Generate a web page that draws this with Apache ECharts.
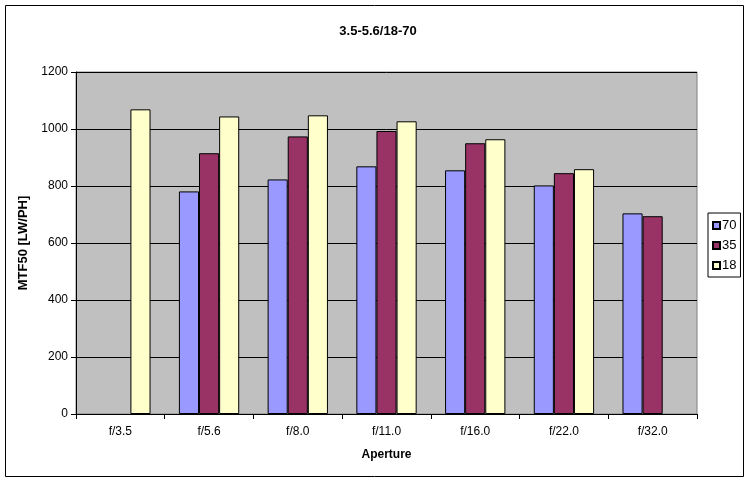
<!DOCTYPE html>
<html>
<head>
<meta charset="utf-8">
<script src="https://cdn.jsdelivr.net/npm/echarts@6/dist/echarts.min.js"></script>
<style>
  html, body { margin: 0; padding: 0; background: #fff; }
  #main { width: 750px; height: 482px; }
</style>
</head>
<body>
<div id="main"></div>
<script>
// data
var apertures = ['f/3.5', 'f/5.6', 'f/8.0', 'f/11.0', 'f/16.0', 'f/22.0', 'f/32.0'];
var s70 = [null, 781, 823, 869, 855, 802, 704];
var s35 = [null, 915, 974, 993, 950, 845, 694];
var s18 = [1069, 1044, 1048, 1027, 964, 859, null];
var yTicks = [0, 200, 400, 600, 800, 1000, 1200];

var myChart = echarts.init(document.getElementById('main'));

function bar(name, data, color) {
    return {
        name: name,
        type: 'bar',
        data: data,
        barGap: '0%',
        barCategoryGap: '32%',
        itemStyle: { color: color, borderColor: '#000', borderWidth: 1 },
        emphasis: { disabled: true }
    };
}

var option = {
    animation: false,
    textStyle: { fontFamily: 'Liberation Sans, Arial, sans-serif' },
    title: {
        text: '3.5-5.6/18-70',
        left: 373,
        textAlign: 'center',
        top: 20,
        textStyle: { fontSize: 13, fontWeight: 'bold', color: '#000', fontFamily: 'Liberation Sans, Arial, sans-serif' }
    },
    graphic: [{
        type: 'rect',
        shape: { x: 5.5, y: 5.5, width: 738, height: 471 },
        style: { fill: 'none', stroke: '#000', lineWidth: 1 },
        silent: true
    }],
    legend: {
        orient: 'vertical',
        left: 708,
        top: 213,
        width: 31,
        padding: [6, 4, 5, 4],
        itemGap: 7,
        itemWidth: 7,
        itemHeight: 7,
        icon: 'rect',
        borderColor: '#000',
        borderWidth: 1,
        textStyle: { fontSize: 13, color: '#000', padding: [0, 0, 0, -3] },
        data: ['70', '35', '18']
    },
    grid: {
        left: 76,
        right: 53,
        top: 72,
        bottom: 68,
        show: true,
        backgroundColor: '#c0c0c0',
        borderColor: '#808080',
        borderWidth: 1
    },
    xAxis: {
        type: 'category',
        data: apertures,
        name: 'Aperture',
        nameLocation: 'middle',
        nameGap: 35,
        nameTextStyle: { fontWeight: 'bold', fontSize: 12, color: '#000' },
        axisLine: { lineStyle: { color: '#000', width: 1 } },
        axisTick: { show: true, length: 5, lineStyle: { color: '#000' } },
        axisLabel: { color: '#000', fontSize: 12, margin: 12 }
    },
    yAxis: {
        type: 'value',
        min: yTicks[0],
        max: yTicks[yTicks.length - 1],
        interval: 200,
        name: 'MTF50 [LW/PH]',
        nameLocation: 'middle',
        nameGap: 42,
        nameTextStyle: { fontWeight: 'bold', fontSize: 13, color: '#000' },
        axisLine: { show: true, lineStyle: { color: '#000', width: 1 } },
        axisTick: { show: true, length: 5, lineStyle: { color: '#000' } },
        axisLabel: { color: '#000', fontSize: 12, margin: 8, formatter: function (v) { return String(v); } },
        splitLine: { show: true, lineStyle: { color: '#000', width: 1 } }
    },
    series: [
        bar('70', s70, '#9999ff'),
        bar('35', s35, '#993366'),
        bar('18', s18, '#ffffcc')
    ]
};

myChart.setOption(option);
</script>
</body>
</html>
